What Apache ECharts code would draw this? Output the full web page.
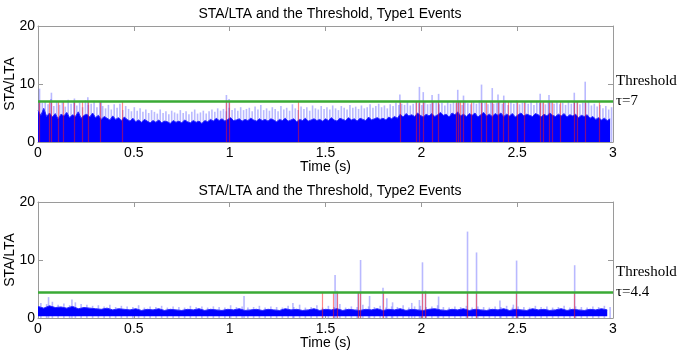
<!DOCTYPE html>
<html>
<head>
<meta charset="utf-8">
<script src="https://cdn.jsdelivr.net/npm/echarts@6/dist/echarts.min.js"></script>
<style>
  html, body { margin: 0; padding: 0; background: #fff; }
  #chart { width: 680px; height: 355px; }
</style>
</head>
<body>
<div id="chart"></div>
<script>
// ---- data ----
const titles = ['STA/LTA and the Threshold, Type1 Events', 'STA/LTA and the Threshold, Type2 Events'];
const thresholds = [7, 4.4];

// Type1: dense core of the STA/LTA trace, one value every 0.015 s
const topStep = 0.015;
const topCore = [
  5.4,4.6,5.8,4.4,5.0,4.3,4.9,4.0,4.8,4.5,5.1,4.2,4.7,4.4,5.2,4.1,4.6,4.8,4.3,5.0,
  4.2,4.6,3.9,4.4,4.1,3.8,4.5,3.9,4.2,3.7,4.3,3.9,3.6,4.1,3.5,3.8,3.4,3.9,3.6,3.3,
  3.7,3.4,3.8,3.3,3.6,3.5,3.2,3.7,3.4,3.6,3.3,3.8,3.5,3.3,3.7,3.4,3.6,3.2,3.7,3.5,
  3.9,3.6,4.1,3.7,4.0,3.6,3.9,4.2,3.7,3.8,4.0,3.6,3.9,3.7,4.1,3.8,3.6,4.0,3.7,3.9,
  3.6,4.0,3.8,3.5,3.9,3.7,4.1,3.6,3.8,4.0,3.5,3.9,3.7,4.1,3.6,3.8,4.0,3.7,3.9,3.6,
  4.0,3.7,4.2,3.8,3.6,4.1,3.9,3.7,4.2,3.8,4.0,3.6,4.1,3.9,3.7,4.3,3.8,4.0,4.2,3.9,
  4.1,3.8,4.3,4.0,4.4,4.1,4.8,4.3,4.9,4.5,4.7,4.4,5.0,4.6,4.3,4.8,4.5,4.9,4.4,4.7,
  5.1,4.6,4.8,4.3,5.0,4.7,5.2,4.5,4.8,4.4,4.9,4.6,5.0,4.3,4.7,5.1,4.5,4.8,4.4,4.9,
  4.6,5.0,4.4,4.8,4.5,4.9,4.3,4.7,5.0,4.5,4.8,4.6,4.4,4.9,4.7,4.3,4.8,4.5,5.0,4.6,
  4.4,4.8,4.5,4.9,4.3,4.7,4.5,4.8,4.2,4.6,4.4,4.7,4.1,4.4,3.9,4.2,3.8,4.1,3.7,4.0
];
// Type1: faint upper fuzz, one value every 0.015 s
const topFuzz = [
  7.2,6.8,7.0,6.5,7.4,6.2,7.0,6.4,6.9,6.1,7.3,6.6,7.1,6.3,6.8,6.0,7.2,6.4,6.6,7.1,
  6.0,6.9,6.2,5.8,6.4,5.6,6.5,5.9,6.6,5.5,6.2,5.7,5.3,6.0,5.4,5.8,5.2,5.6,5.0,5.5,
  5.2,4.9,5.6,5.0,5.3,4.8,5.4,5.1,4.9,5.5,5.0,5.3,4.8,5.2,5.6,4.9,5.1,5.4,4.9,5.3,
  5.6,5.2,5.8,5.4,5.7,5.3,5.9,5.5,5.8,5.4,6.0,5.5,5.7,5.9,5.3,6.1,5.6,6.4,5.5,5.8,
  5.4,6.0,5.7,5.3,6.2,5.6,5.9,5.4,6.5,5.8,5.5,6.1,5.7,6.0,5.4,6.3,5.8,5.6,6.2,5.7,
  6.0,5.6,6.3,5.8,5.5,6.2,5.9,5.6,6.4,5.9,6.1,5.7,6.3,5.8,6.0,6.5,5.9,6.2,6.6,6.0,
  6.3,5.8,6.5,6.2,6.8,6.4,6.6,6.4,6.9,6.3,6.6,7.0,6.7,6.4,7.0,6.5,6.6,6.9,6.8,6.5,
  6.8,6.3,7.0,6.6,6.9,6.7,7.1,6.4,7.1,6.7,6.5,6.9,6.6,7.2,6.8,6.8,6.5,7.0,6.6,6.7,
  6.9,6.6,7.1,6.4,6.9,6.6,7.2,6.5,6.8,7.0,6.6,6.9,6.4,7.1,6.7,6.8,6.5,6.9,6.9,6.6,
  7.0,6.5,6.8,6.4,7.1,6.6,6.9,6.9,6.5,6.8,6.7,7.0,6.3,6.6,6.1,6.4,5.8,6.2,5.6,6.0
];
// Type1: tall isolated spikes
const topSpikeTimes  = [0.008, 0.07, 0.19, 0.26, 0.33, 0.983, 0.997, 1.888, 1.99, 2.01, 2.056, 2.09, 2.19, 2.22, 2.314, 2.37, 2.40, 2.43, 2.62, 2.666, 2.798, 2.855];
const topSpikeValues = [9.2,   8.5,  7.5,  7.7,  7.1,  8.1,   7.4,   8.2,   9.5,  8.6,  8.1,   8.3,  9.0,  8.0,  9.9,   9.3,  8.2,  8.0,  8.3,  8.1,   8.5,   10.4];
// Type1: detections (red)
const topDetections = [0.008, 0.06, 0.07, 0.104, 0.13, 0.187, 0.23, 0.26, 0.326, 0.438, 0.983, 0.997, 1.36,
  1.888, 1.972, 1.989, 2.009, 2.056, 2.09, 2.184, 2.194, 2.205, 2.22, 2.262, 2.314, 2.338, 2.37, 2.401,
  2.427, 2.453, 2.5, 2.539, 2.623, 2.636, 2.666, 2.685, 2.727, 2.798, 2.812, 2.855, 2.929];

// Type2: dense band, one value every 0.03 s
const botStep = 0.03;
const botFloor = 0.3;
const botCore = [
  2.0,1.7,2.1,1.8,1.9,1.7,2.0,1.6,1.8,1.7,1.6,1.5,1.7,1.4,1.6,1.5,1.4,1.6,1.3,1.5,
  1.4,1.6,1.3,1.5,1.4,1.3,1.5,1.4,1.6,1.3,1.5,1.4,1.3,1.5,1.4,1.6,1.3,1.4,1.5,1.3,
  1.5,1.4,1.3,1.6,1.4,1.5,1.3,1.4,1.6,1.3,1.5,1.4,1.6,1.3,1.5,1.4,1.3,1.5,1.4,1.6,
  1.3,1.5,1.4,1.6,1.3,1.5,1.4,1.3,1.5,1.6,1.4,1.3,1.5,1.4,1.6,1.3,1.5,1.4,1.3,1.5,
  1.4,1.6,1.3,1.5,1.4,1.3,1.6,1.4,1.5,1.3,1.4,1.6,1.3,1.5,1.4,1.3,1.5,1.4,1.6,1.4
];
const botFuzz = [
  2.6,2.4,2.8,2.3,2.5,2.2,2.7,2.4,2.3,2.1,2.2,2.0,2.3,1.9,2.1,2.0,1.9,2.2,1.8,2.0,
  1.9,2.1,1.8,2.0,1.9,1.8,2.1,1.9,2.0,1.8,2.0,1.9,1.8,2.2,1.9,2.0,1.8,1.9,2.1,1.8,
  2.0,1.9,1.8,2.1,1.9,2.3,1.8,1.9,2.2,1.8,2.1,1.9,2.4,1.8,2.0,1.9,2.3,2.0,1.9,2.1,
  1.8,2.0,1.9,2.2,1.8,2.0,2.1,1.9,2.0,2.2,1.9,1.8,2.0,1.9,2.1,1.8,2.0,1.9,1.8,2.0,
  1.9,2.1,1.8,2.0,1.9,1.8,2.1,1.9,2.0,1.8,1.9,2.1,1.8,2.0,1.9,1.8,2.0,1.9,2.1,1.9
];
const botSpikeTimes  = [0.055, 0.177, 1.075, 1.33, 1.55, 1.56, 1.67, 1.683, 1.73, 1.80, 1.82, 1.85, 1.95, 1.99, 2.006, 2.022, 2.09, 2.241, 2.288, 2.41, 2.48, 2.497, 2.80];
const botSpikeValues = [3.6,   3.2,   3.8,   2.6,  7.4,  4.7,  4.5,  10.0,  3.8,  5.2,  3.4,  2.7,  2.6,  3.1,  9.6,   4.7,   3.7,  14.9,  11.3,  3.0,  2.3,  9.9,   9.1];
const botDetections = [1.484, 1.543, 1.56, 1.67, 1.683, 1.803, 2.006, 2.022, 2.241, 2.288, 2.497, 2.8];

// ---- chart ----
const font = 'Liberation Sans, Arial, sans-serif';
const boxColor = '#9a9a9a';

function toPairs(values, step, offset) {
  return values.map((v, i) => [+(offset + i * step).toFixed(4), v]);
}
function zipPairs(ts, vs) {
  return ts.map((t, i) => [t, vs[i]]);
}

function makeXAxes(gi) {
  return [{
    gridIndex: gi, type: 'value', min: 0, max: 3, interval: 0.5,
    name: 'Time (s)', nameLocation: 'middle', nameGap: 18, nameMoveOverlap: false,
    nameTextStyle: { fontFamily: font, fontSize: 14, color: '#000' },
    axisLine: { onZero: false, lineStyle: { color: boxColor } },
    axisTick: { inside: true, length: 5, lineStyle: { color: boxColor } },
    axisLabel: { fontFamily: font, fontSize: 14, color: '#000', margin: 4 },
    splitLine: { show: false }
  }, {
    gridIndex: gi, type: 'value', min: 0, max: 3, interval: 0.5, position: 'top',
    axisLine: { onZero: false, lineStyle: { color: boxColor } },
    axisTick: { inside: true, length: 5, lineStyle: { color: boxColor } },
    axisLabel: { show: false }, splitLine: { show: false }
  }];
}
function makeYAxes(gi) {
  return [{
    gridIndex: gi, type: 'value', min: 0, max: 20, interval: 10,
    name: 'STA/LTA', nameLocation: 'middle', nameGap: 21, nameMoveOverlap: false,
    nameTextStyle: { fontFamily: font, fontSize: 14, color: '#000' },
    axisLine: { show: true, onZero: false, lineStyle: { color: boxColor } },
    axisTick: { show: true, inside: true, length: 5, lineStyle: { color: boxColor } },
    axisLabel: { fontFamily: font, fontSize: 14, color: '#000', margin: 3 },
    splitLine: { show: false }
  }, {
    gridIndex: gi, type: 'value', min: 0, max: 20, interval: 10, position: 'right',
    axisLine: { show: true, onZero: false, lineStyle: { color: boxColor } },
    axisTick: { show: true, inside: true, length: 5, lineStyle: { color: boxColor } },
    axisLabel: { show: false }, splitLine: { show: false }
  }];
}

function panelSeries(gi, core, coreStep, coreOrigin, fuzz, fuzzStep, spikeT, spikeV, detections, thr) {
  const xi = gi * 2, yi = gi * 2;
  return [{
    type: 'bar', xAxisIndex: xi, yAxisIndex: yi,
    data: toPairs(fuzz, fuzzStep, fuzzStep / 2).concat(zipPairs(spikeT, spikeV)),
    barWidth: 1.6, silent: true,
    itemStyle: { color: 'rgba(60,60,255,0.36)' }
  }, {
    type: 'line', xAxisIndex: xi, yAxisIndex: yi,
    data: toPairs(core, coreStep, 0),
    showSymbol: false, silent: true,
    lineStyle: { color: '#2a2aff', width: 1 },
    areaStyle: { color: '#0000ff', opacity: 1, origin: coreOrigin }
  }, {
    type: 'line', xAxisIndex: xi, yAxisIndex: yi, data: [], silent: true,
    markLine: {
      silent: true, symbol: 'none', animation: false,
      label: { show: false },
      lineStyle: { color: 'rgba(255,20,20,0.5)', width: 1.2, type: 'solid' },
      data: detections.map(t => [{ coord: [t, 0] }, { coord: [t, thr] }])
    }
  }, {
    type: 'line', xAxisIndex: xi, yAxisIndex: yi, data: [], silent: true,
    markLine: {
      silent: true, symbol: 'none', animation: false,
      lineStyle: { color: '#3aaa35', width: 2.5, type: 'solid' },
      label: {
        show: true, position: 'end', distance: 3,
        formatter: 'Threshold\nτ=' + thr + '\n ',
        fontFamily: 'Liberation Serif, Times New Roman, serif',
        fontSize: 15, lineHeight: 20, color: '#000'
      },
      data: [{ yAxis: thr }]
    }
  }];
}

const chart = echarts.init(document.getElementById('chart'), null, { renderer: 'canvas' });
chart.setOption({
  animation: false,
  backgroundColor: '#fff',
  title: [
    { text: titles[0], left: 325, top: 2, textAlign: 'center', textStyle: { fontFamily: font, fontSize: 14, fontWeight: 'normal', color: '#000' } },
    { text: titles[1], left: 325, top: 179, textAlign: 'center', textStyle: { fontFamily: font, fontSize: 14, fontWeight: 'normal', color: '#000' } }
  ],
  grid: [
    { left: 38, right: 67, top: 26, height: 116, outerBoundsMode: 'none', containLabel: false },
    { left: 38, right: 67, top: 202, height: 116, outerBoundsMode: 'none', containLabel: false }
  ],
  xAxis: makeXAxes(0).concat(makeXAxes(1)),
  yAxis: makeYAxes(0).concat(makeYAxes(1)),
  series: panelSeries(0, topCore, topStep, 'auto', topFuzz, topStep, topSpikeTimes, topSpikeValues, topDetections, thresholds[0])
    .concat(panelSeries(1, botCore, botStep, botFloor, botFuzz, botStep, botSpikeTimes, botSpikeValues, botDetections, thresholds[1]))
});
</script>
</body>
</html>
